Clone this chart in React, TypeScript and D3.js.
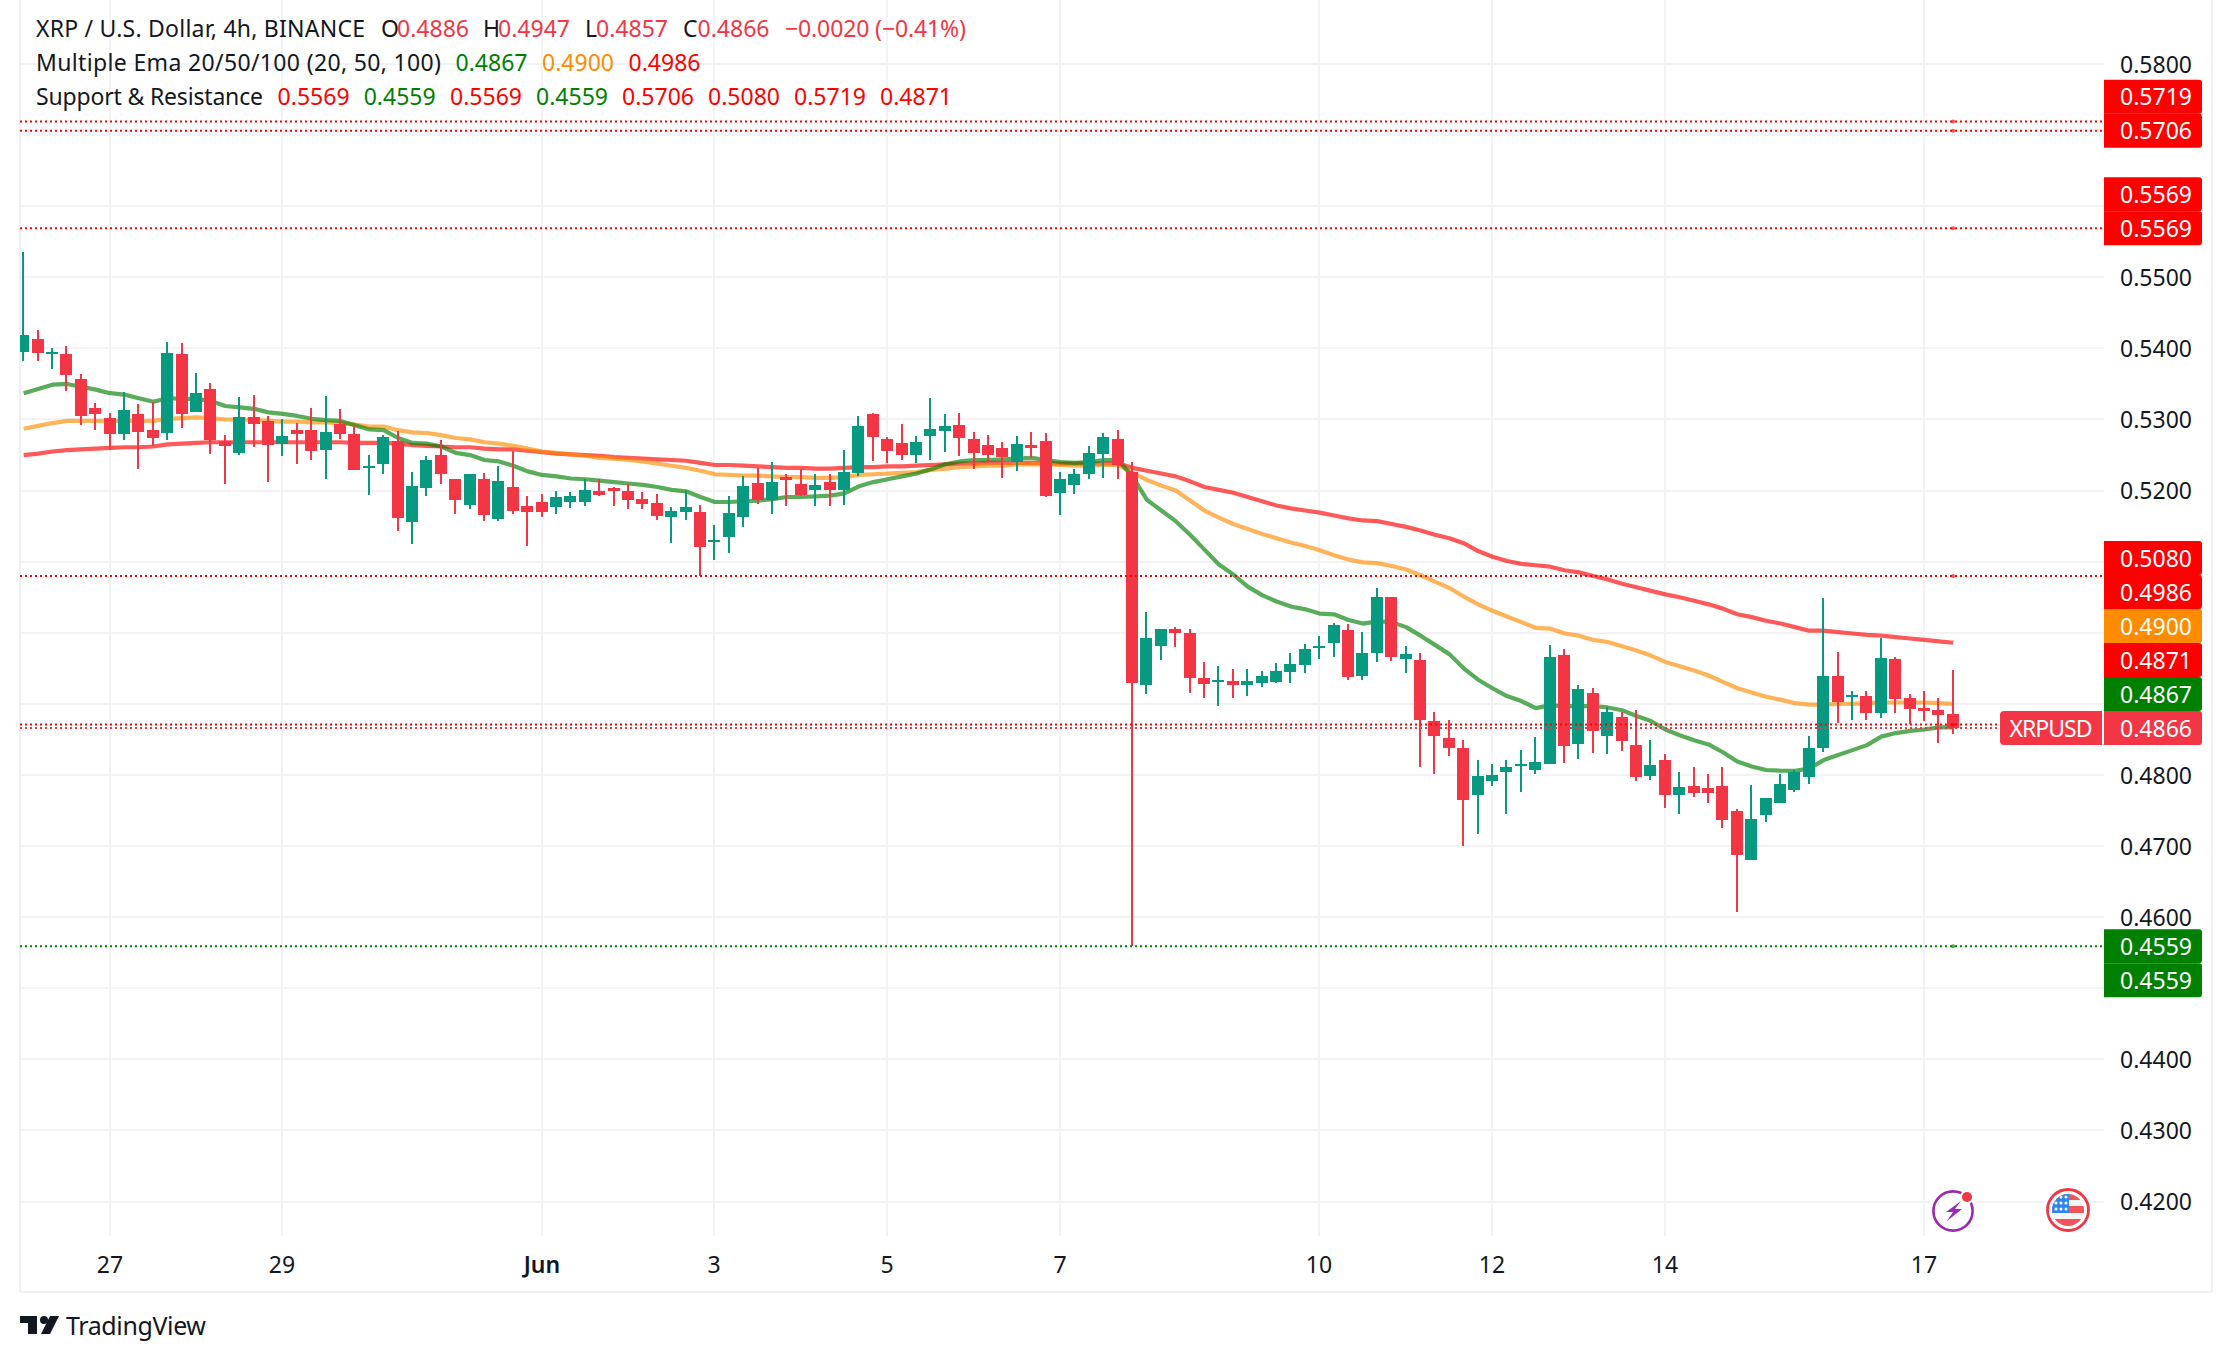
import { useRef, useEffect } from "react";
import * as d3 from "d3";

const opens = [
  0.5395, 0.5413, 0.5393, 0.5392, 0.5357, 0.5316, 0.5302, 0.5280, 0.5308, 0.5285,
  0.5281, 0.5392, 0.5311, 0.5343, 0.5270, 0.5253, 0.5304, 0.5298, 0.5266, 0.5285,
  0.5285, 0.5257, 0.5294, 0.5280, 0.5232, 0.5237, 0.5270, 0.5156, 0.5204, 0.5250,
  0.5216, 0.5180, 0.5216, 0.5160, 0.5205, 0.5178, 0.5184, 0.5177, 0.5184, 0.5184,
  0.5199, 0.5204, 0.5200, 0.5188, 0.5183, 0.5163, 0.5170, 0.5170, 0.5128, 0.5135,
  0.5163, 0.5211, 0.5187, 0.5219, 0.5209, 0.5201, 0.5212, 0.5201, 0.5225, 0.5308,
  0.5273, 0.5267, 0.5250, 0.5277, 0.5284, 0.5292, 0.5273, 0.5264, 0.5260, 0.5240,
  0.5264, 0.5270, 0.5197, 0.5208, 0.5223, 0.5252, 0.5273, 0.5226, 0.4927, 0.4981,
  0.5005, 0.5000, 0.4936, 0.4931, 0.4932, 0.4927, 0.4929, 0.4931, 0.4945, 0.4955,
  0.4979, 0.4986, 0.5004, 0.4939, 0.4972, 0.5050, 0.4963, 0.4962, 0.4876, 0.4852,
  0.4838, 0.4772, 0.4792, 0.4804, 0.4813, 0.4807, 0.4815, 0.4969, 0.4844, 0.4915,
  0.4855, 0.4882, 0.4842, 0.4799, 0.4821, 0.4772, 0.4785, 0.4782, 0.4785, 0.4749,
  0.4681, 0.4744, 0.4761, 0.4779, 0.4797, 0.4838, 0.4939, 0.4910, 0.4911, 0.4887,
  0.4963, 0.4908, 0.4894, 0.4891, 0.4886,
];
const highs = [
  0.5536, 0.5426, 0.5401, 0.5403, 0.5364, 0.5323, 0.5309, 0.5339, 0.5322, 0.5325,
  0.5409, 0.5408, 0.5365, 0.5351, 0.5278, 0.5332, 0.5334, 0.5305, 0.5301, 0.5295,
  0.5316, 0.5333, 0.5315, 0.5292, 0.5250, 0.5278, 0.5284, 0.5226, 0.5249, 0.5271,
  0.5216, 0.5223, 0.5225, 0.5235, 0.5256, 0.5192, 0.5195, 0.5199, 0.5198, 0.5216,
  0.5216, 0.5205, 0.5209, 0.5198, 0.5195, 0.5177, 0.5200, 0.5180, 0.5152, 0.5192,
  0.5221, 0.5232, 0.5240, 0.5223, 0.5230, 0.5223, 0.5223, 0.5257, 0.5305, 0.5309,
  0.5275, 0.5294, 0.5277, 0.5330, 0.5308, 0.5309, 0.5282, 0.5278, 0.5268, 0.5277,
  0.5282, 0.5281, 0.5226, 0.5230, 0.5263, 0.5281, 0.5285, 0.5240, 0.5029, 0.5005,
  0.5008, 0.5005, 0.4959, 0.4953, 0.4949, 0.4949, 0.4946, 0.4957, 0.4972, 0.4984,
  0.4995, 0.5014, 0.5012, 0.5001, 0.5063, 0.5050, 0.4981, 0.4972, 0.4889, 0.4877,
  0.4849, 0.4821, 0.4815, 0.4821, 0.4835, 0.4853, 0.4983, 0.4977, 0.4927, 0.4922,
  0.4896, 0.4889, 0.4891, 0.4849, 0.4830, 0.4804, 0.4811, 0.4801, 0.4811, 0.4752,
  0.4786, 0.4768, 0.4801, 0.4807, 0.4855, 0.5049, 0.4973, 0.4918, 0.4918, 0.4993,
  0.4966, 0.4914, 0.4918, 0.4908, 0.4947,
];
const lows = [
  0.5382, 0.5382, 0.5371, 0.5340, 0.5292, 0.5285, 0.5257, 0.5271, 0.5230, 0.5263,
  0.5271, 0.5288, 0.5311, 0.5251, 0.5209, 0.5250, 0.5261, 0.5212, 0.5249, 0.5237,
  0.5243, 0.5216, 0.5273, 0.5229, 0.5194, 0.5223, 0.5143, 0.5125, 0.5192, 0.5209,
  0.5167, 0.5174, 0.5157, 0.5157, 0.5167, 0.5122, 0.5163, 0.5167, 0.5175, 0.5178,
  0.5192, 0.5178, 0.5174, 0.5174, 0.5159, 0.5126, 0.5159, 0.5080, 0.5102, 0.5112,
  0.5149, 0.5181, 0.5167, 0.5178, 0.5192, 0.5178, 0.5178, 0.5180, 0.5221, 0.5242,
  0.5239, 0.5243, 0.5239, 0.5243, 0.5254, 0.5249, 0.5230, 0.5240, 0.5218, 0.5228,
  0.5246, 0.5191, 0.5166, 0.5195, 0.5216, 0.5218, 0.5216, 0.4559, 0.4914, 0.4962,
  0.4980, 0.4915, 0.4908, 0.4897, 0.4908, 0.4911, 0.4924, 0.4929, 0.4929, 0.4943,
  0.4963, 0.4966, 0.4934, 0.4934, 0.4959, 0.4960, 0.4943, 0.4811, 0.4801, 0.4827,
  0.4700, 0.4717, 0.4785, 0.4745, 0.4776, 0.4801, 0.4815, 0.4817, 0.4823, 0.4831,
  0.4830, 0.4834, 0.4792, 0.4793, 0.4754, 0.4745, 0.4769, 0.4761, 0.4726, 0.4607,
  0.4681, 0.4734, 0.4761, 0.4776, 0.4787, 0.4832, 0.4873, 0.4877, 0.4877, 0.4880,
  0.4887, 0.4872, 0.4876, 0.4845, 0.4857,
];
const closes = [
  0.5419, 0.5394, 0.5395, 0.5363, 0.5305, 0.5308, 0.5280, 0.5313, 0.5282, 0.5274,
  0.5394, 0.5308, 0.5337, 0.5271, 0.5263, 0.5304, 0.5294, 0.5264, 0.5277, 0.5280,
  0.5256, 0.5282, 0.5280, 0.5229, 0.5235, 0.5275, 0.5161, 0.5206, 0.5243, 0.5223,
  0.5187, 0.5223, 0.5166, 0.5213, 0.5171, 0.5170, 0.5170, 0.5191, 0.5192, 0.5201,
  0.5194, 0.5200, 0.5187, 0.5181, 0.5164, 0.5171, 0.5177, 0.5121, 0.5130, 0.5169,
  0.5207, 0.5187, 0.5212, 0.5215, 0.5194, 0.5208, 0.5201, 0.5226, 0.5291, 0.5275,
  0.5256, 0.5250, 0.5268, 0.5287, 0.5291, 0.5274, 0.5253, 0.5250, 0.5247, 0.5266,
  0.5260, 0.5192, 0.5216, 0.5223, 0.5253, 0.5275, 0.5236, 0.4929, 0.4993, 0.5005,
  0.5000, 0.4936, 0.4928, 0.4934, 0.4927, 0.4932, 0.4939, 0.4946, 0.4956, 0.4977,
  0.4981, 0.5011, 0.4938, 0.4972, 0.5050, 0.4966, 0.4970, 0.4877, 0.4855, 0.4838,
  0.4765, 0.4799, 0.4800, 0.4811, 0.4815, 0.4818, 0.4966, 0.4841, 0.4921, 0.4862,
  0.4889, 0.4848, 0.4797, 0.4814, 0.4772, 0.4783, 0.4775, 0.4775, 0.4737, 0.4688,
  0.4738, 0.4768, 0.4787, 0.4804, 0.4838, 0.4939, 0.4903, 0.4913, 0.4887, 0.4965,
  0.4907, 0.4893, 0.4890, 0.4884, 0.4866,
];

const ema20 = [
  0.5337, 0.5343, 0.5349, 0.5350, 0.5346, 0.5342, 0.5337, 0.5335, 0.5330, 0.5325,
  0.5330, 0.5329, 0.5329, 0.5326, 0.5319, 0.5317, 0.5315, 0.5310, 0.5308, 0.5305,
  0.5301, 0.5299, 0.5298, 0.5292, 0.5286, 0.5285, 0.5274, 0.5267, 0.5266, 0.5262,
  0.5253, 0.5250, 0.5243, 0.5241, 0.5235, 0.5227, 0.5222, 0.5220, 0.5217, 0.5216,
  0.5214, 0.5212, 0.5210, 0.5208, 0.5205, 0.5201, 0.5199, 0.5191, 0.5184, 0.5184,
  0.5185, 0.5186, 0.5188, 0.5191, 0.5191, 0.5192, 0.5193, 0.5196, 0.5206, 0.5212,
  0.5216, 0.5220, 0.5224, 0.5230, 0.5237, 0.5241, 0.5243, 0.5243, 0.5244, 0.5245,
  0.5246, 0.5243, 0.5240, 0.5239, 0.5240, 0.5243, 0.5243, 0.5220, 0.5187, 0.5172,
  0.5157, 0.5138, 0.5117, 0.5096, 0.5082, 0.5065, 0.5053, 0.5044, 0.5037, 0.5033,
  0.5027, 0.5026, 0.5018, 0.5013, 0.5016, 0.5015, 0.5008, 0.4996, 0.4983, 0.4970,
  0.4950, 0.4934, 0.4922, 0.4911, 0.4904, 0.4894, 0.4898, 0.4897, 0.4897, 0.4897,
  0.4895, 0.4891, 0.4883, 0.4876, 0.4864, 0.4856, 0.4849, 0.4843, 0.4832, 0.4819,
  0.4812, 0.4807, 0.4806, 0.4806, 0.4809, 0.4821, 0.4828, 0.4835, 0.4842, 0.4854,
  0.4859, 0.4862, 0.4864, 0.4867, 0.4867,
];
const ema50 = [
  0.5287, 0.5291, 0.5295, 0.5298, 0.5298, 0.5298, 0.5298, 0.5298, 0.5298, 0.5298,
  0.5301, 0.5302, 0.5303, 0.5302, 0.5300, 0.5300, 0.5299, 0.5298, 0.5297, 0.5297,
  0.5296, 0.5296, 0.5295, 0.5293, 0.5290, 0.5290, 0.5285, 0.5282, 0.5281, 0.5278,
  0.5274, 0.5272, 0.5268, 0.5266, 0.5263, 0.5259, 0.5255, 0.5253, 0.5251, 0.5249,
  0.5246, 0.5245, 0.5243, 0.5241, 0.5238, 0.5235, 0.5232, 0.5228, 0.5223, 0.5222,
  0.5221, 0.5221, 0.5220, 0.5219, 0.5219, 0.5218, 0.5218, 0.5219, 0.5222, 0.5223,
  0.5224, 0.5225, 0.5226, 0.5229, 0.5231, 0.5233, 0.5234, 0.5235, 0.5235, 0.5237,
  0.5237, 0.5237, 0.5236, 0.5235, 0.5235, 0.5236, 0.5236, 0.5225, 0.5215, 0.5207,
  0.5200, 0.5186, 0.5172, 0.5162, 0.5153, 0.5146, 0.5139, 0.5133, 0.5127, 0.5122,
  0.5116, 0.5109, 0.5103, 0.5099, 0.5098, 0.5094, 0.5089, 0.5081, 0.5072, 0.5063,
  0.5051, 0.5040, 0.5031, 0.5023, 0.5015, 0.5007, 0.5006, 0.4999, 0.4996, 0.4990,
  0.4987, 0.4981, 0.4975, 0.4968, 0.4959, 0.4953, 0.4947, 0.4940, 0.4931, 0.4922,
  0.4916, 0.4910, 0.4906, 0.4901, 0.4899, 0.4899, 0.4900, 0.4900, 0.4901, 0.4902,
  0.4902, 0.4902, 0.4902, 0.4901, 0.4900,
];
const ema100 = [
  0.5250, 0.5252, 0.5255, 0.5257, 0.5258, 0.5259, 0.5260, 0.5261, 0.5261, 0.5262,
  0.5265, 0.5266, 0.5267, 0.5268, 0.5268, 0.5268, 0.5268, 0.5268, 0.5268, 0.5268,
  0.5268, 0.5268, 0.5268, 0.5267, 0.5267, 0.5267, 0.5266, 0.5264, 0.5263, 0.5262,
  0.5261, 0.5261, 0.5259, 0.5258, 0.5258, 0.5256, 0.5254, 0.5252, 0.5251, 0.5250,
  0.5249, 0.5247, 0.5246, 0.5245, 0.5244, 0.5243, 0.5242, 0.5239, 0.5236, 0.5236,
  0.5235, 0.5234, 0.5233, 0.5232, 0.5232, 0.5231, 0.5231, 0.5232, 0.5233, 0.5233,
  0.5234, 0.5234, 0.5235, 0.5236, 0.5237, 0.5238, 0.5238, 0.5239, 0.5239, 0.5239,
  0.5239, 0.5239, 0.5238, 0.5238, 0.5238, 0.5238, 0.5238, 0.5232, 0.5228, 0.5224,
  0.5220, 0.5213, 0.5205, 0.5201, 0.5197, 0.5191, 0.5185, 0.5179, 0.5175, 0.5172,
  0.5169, 0.5165, 0.5161, 0.5158, 0.5157, 0.5153, 0.5149, 0.5144, 0.5138, 0.5133,
  0.5126, 0.5115, 0.5107, 0.5101, 0.5097, 0.5095, 0.5093, 0.5088, 0.5085, 0.5080,
  0.5075, 0.5069, 0.5064, 0.5059, 0.5054, 0.5050, 0.5045, 0.5040, 0.5034, 0.5026,
  0.5022, 0.5017, 0.5013, 0.5008, 0.5003, 0.5003, 0.5001, 0.4999, 0.4997, 0.4996,
  0.4994, 0.4992, 0.4990, 0.4988, 0.4986,
];

const gridPrices = [0.58, 0.57, 0.56, 0.55, 0.54, 0.53, 0.52, 0.51, 0.5, 0.49, 0.48, 0.47, 0.46, 0.45, 0.44, 0.43, 0.42];
const priceTickLabels = [0.58, 0.55, 0.54, 0.53, 0.52, 0.48, 0.47, 0.46, 0.44, 0.43, 0.42];
const dateTickBars = [6, 18, 36, 48, 60, 72, 90, 102, 114, 132];
const dateTickLabels = ["27", "29", "Jun", "3", "5", "7", "10", "12", "14", "17"];
const resistanceLevels = [0.5719, 0.5706, 0.5569, 0.508, 0.4871];
const supportLevels = [0.4559];
const lastPrice = 0.4866;

const font = "'Noto Sans', sans-serif";
const UP = "#089981";
const DOWN = "#F23645";
const INK = "#131722";
const GRID = "#f3f3f5";
const FRAME = "#eeeef3";
const LEVEL_RED = "#ff0000";
const LEVEL_GREEN = "#008000";
const LEVEL_ORANGE = "#ff8c00";

export default function App() {
  const svgRef = useRef<SVGSVGElement>(null);

  useEffect(() => {
    if (!svgRef.current) return;
    const svg = d3.select(svgRef.current);
    svg.selectAll("*").remove();

    const pane = { left: 20, right: 2104, top: 0, bottom: 1236 };
    const x = d3.scaleLinear().domain([0, opens.length - 1]).range([23.7, 1953.3]);
    const y = d3.scaleLinear().domain([0.42, 0.58]).range([1201.6, 64]);
    const bar = (i: number) => Math.round(x(i) - 0.5);

    const defs = svg.append("defs");
    defs
      .append("clipPath")
      .attr("id", "pane")
      .append("rect")
      .attr("x", pane.left)
      .attr("y", pane.top)
      .attr("width", pane.right - pane.left)
      .attr("height", pane.bottom - pane.top);
    defs
      .append("clipPath")
      .attr("id", "flag")
      .append("circle")
      .attr("cx", 2068)
      .attr("cy", 1210)
      .attr("r", 16);

    svg.append("rect").attr("width", 2232).attr("height", 1362).attr("fill", "#fff");

    // Grid
    const grid = svg.append("g").attr("stroke", GRID).attr("stroke-width", 2);
    gridPrices.forEach((p) => {
      grid
        .append("line")
        .attr("x1", pane.left)
        .attr("x2", pane.right)
        .attr("y1", Math.round(y(p)))
        .attr("y2", Math.round(y(p)));
    });
    dateTickBars.forEach((b) => {
      grid
        .append("line")
        .attr("x1", bar(b))
        .attr("x2", bar(b))
        .attr("y1", pane.top)
        .attr("y2", pane.bottom);
    });

    // Frame
    const frame = svg.append("g").attr("stroke", FRAME).attr("stroke-width", 2);
    frame.append("line").attr("x1", 20).attr("x2", 20).attr("y1", 0).attr("y2", 1292);
    frame.append("line").attr("x1", 2212).attr("x2", 2212).attr("y1", 0).attr("y2", 1292);
    frame.append("line").attr("x1", 20).attr("x2", 2212).attr("y1", 1292).attr("y2", 1292);

    const plot = svg.append("g").attr("clip-path", "url(#pane)");

    // EMA lines sit under the candles
    const line = d3
      .line<number>()
      .x((_, i) => x(i))
      .y((d) => y(d));
    [
      { values: ema100, color: LEVEL_RED },
      { values: ema50, color: LEVEL_ORANGE },
      { values: ema20, color: LEVEL_GREEN },
    ].forEach((s) => {
      plot
        .append("path")
        .attr("d", line(s.values))
        .attr("fill", "none")
        .attr("stroke", s.color)
        .attr("stroke-width", 4.2)
        .attr("stroke-opacity", 0.65)
        .attr("stroke-linejoin", "round");
    });

    // Candles
    const candles = plot.append("g").attr("shape-rendering", "crispEdges");
    opens.forEach((open, i) => {
      const close = closes[i];
      const color = close >= open ? UP : DOWN;
      candles
        .append("rect")
        .attr("x", bar(i) - 1)
        .attr("width", 2)
        .attr("y", y(highs[i]))
        .attr("height", y(lows[i]) - y(highs[i]))
        .attr("fill", color);
      candles
        .append("rect")
        .attr("x", bar(i) - 6)
        .attr("width", 12)
        .attr("y", y(Math.max(open, close)))
        .attr("height", Math.max(2, Math.abs(y(open) - y(close))))
        .attr("fill", color);
    });

    // Support & resistance levels and the last price line
    const levels = svg.append("g");
    const addLevel = (price: number, color: string, marker: boolean) => {
      levels
        .append("line")
        .attr("x1", pane.left)
        .attr("x2", pane.right)
        .attr("y1", y(price))
        .attr("y2", y(price))
        .attr("stroke", color)
        .attr("stroke-width", 2)
        .attr("stroke-dasharray", "2 3");
      if (marker) {
        levels
          .append("circle")
          .attr("cx", bar(opens.length - 1))
          .attr("cy", y(price))
          .attr("r", 2)
          .attr("fill", color)
          .attr("fill-opacity", 0.7);
      }
    };
    resistanceLevels.forEach((p) => addLevel(p, LEVEL_RED, true));
    supportLevels.forEach((p) => addLevel(p, LEVEL_GREEN, true));
    addLevel(lastPrice, DOWN, false);

    // Event icons
    const icons = svg.append("g");
    icons.append("circle").attr("cx", 1953).attr("cy", 1211).attr("r", 24).attr("fill", "#fff");
    icons.append("circle").attr("cx", 2068).attr("cy", 1210).attr("r", 25).attr("fill", "#fff");
    icons
      .append("circle")
      .attr("cx", 1953)
      .attr("cy", 1211)
      .attr("r", 19.6)
      .attr("fill", "none")
      .attr("stroke", "#9c27b0")
      .attr("stroke-width", 2.6);
    icons
      .append("path")
      .attr("d", "M1961 1201 L1946 1212 L1953 1212 L1947 1221 L1962 1209 L1955 1209 Z")
      .attr("fill", "#9c27b0");
    icons.append("circle").attr("cx", 1967).attr("cy", 1197).attr("r", 7).attr("fill", "#fff");
    icons.append("circle").attr("cx", 1967).attr("cy", 1197).attr("r", 5).attr("fill", DOWN);
    icons
      .append("circle")
      .attr("cx", 2068)
      .attr("cy", 1210)
      .attr("r", 20.5)
      .attr("fill", "none")
      .attr("stroke", DOWN)
      .attr("stroke-width", 2.8);
    const flag = icons.append("g").attr("clip-path", "url(#flag)");
    flag.append("rect").attr("x", 2050).attr("y", 1192).attr("width", 36).attr("height", 36).attr("fill", "#f7f7f9");
    [1193, 1206, 1219].forEach((top, i) => {
      flag
        .append("rect")
        .attr("x", 2050)
        .attr("y", top)
        .attr("width", 36)
        .attr("height", i === 2 ? 9 : 7)
        .attr("fill", "#f2545b");
    });
    flag.append("rect").attr("x", 2050).attr("y", 1192).attr("width", 19).attr("height", 21).attr("fill", "#2e86ef");
    [1197, 1203, 1209].forEach((cy) => {
      [2056, 2061, 2066].forEach((cx) => {
        flag.append("circle").attr("cx", cx).attr("cy", cy).attr("r", 1.5).attr("fill", "#fff");
      });
    });

    // Price axis labels
    const priceAxis = svg
      .append("g")
      .attr("font-family", font)
      .attr("font-size", 23)
      .attr("fill", INK)
      .attr("text-anchor", "end")
      .attr("dominant-baseline", "central");
    priceTickLabels.forEach((p) => {
      priceAxis
        .append("text")
        .attr("x", 2192)
        .attr("y", y(p) - 0.5)
        .text(p.toFixed(4));
    });

    // Level tags, stacked the way the chart pushes overlapping tags apart
    const tagHeight = 34;
    const tags = [
      { price: 0.5719, color: LEVEL_RED, anchor: 0.5706, slot: -1 },
      { price: 0.5706, color: LEVEL_RED, anchor: 0.5706, slot: 0 },
      { price: 0.5569, color: LEVEL_RED, anchor: 0.5569, slot: -1 },
      { price: 0.5569, color: LEVEL_RED, anchor: 0.5569, slot: 0 },
      { price: 0.508, color: LEVEL_RED, anchor: lastPrice, slot: -5 },
      { price: 0.4986, color: LEVEL_RED, anchor: lastPrice, slot: -4 },
      { price: 0.49, color: LEVEL_ORANGE, anchor: lastPrice, slot: -3 },
      { price: 0.4871, color: LEVEL_RED, anchor: lastPrice, slot: -2 },
      { price: 0.4867, color: LEVEL_GREEN, anchor: lastPrice, slot: -1 },
      { price: 0.4866, color: DOWN, anchor: lastPrice, slot: 0 },
      { price: 0.4559, color: LEVEL_GREEN, anchor: 0.4559, slot: 0 },
      { price: 0.4559, color: LEVEL_GREEN, anchor: 0.4559, slot: 1 },
    ];
    const tagGroup = svg.append("g").attr("font-family", font).attr("font-size", 23);
    tags.forEach((t) => {
      const cy = y(t.anchor) + t.slot * tagHeight;
      const top = cy - tagHeight / 2;
      const p = d3.path();
      p.moveTo(pane.right, top);
      p.lineTo(2199, top);
      p.arcTo(2202, top, 2202, top + 3, 3);
      p.lineTo(2202, top + tagHeight - 3);
      p.arcTo(2202, top + tagHeight, 2199, top + tagHeight, 3);
      p.lineTo(pane.right, top + tagHeight);
      p.closePath();
      tagGroup.append("path").attr("d", p.toString()).attr("fill", t.color);
      tagGroup
        .append("text")
        .attr("x", 2192)
        .attr("y", cy - 0.5)
        .attr("text-anchor", "end")
        .attr("dominant-baseline", "central")
        .attr("fill", "#fff")
        .text(t.price.toFixed(4));
    });

    // Ticker tag on the last price
    const lastY = y(lastPrice);
    const tickerPath = d3.path();
    tickerPath.moveTo(2102, lastY - 17);
    tickerPath.lineTo(2004, lastY - 17);
    tickerPath.arcTo(2000, lastY - 17, 2000, lastY - 13, 4);
    tickerPath.lineTo(2000, lastY + 13);
    tickerPath.arcTo(2000, lastY + 17, 2004, lastY + 17, 4);
    tickerPath.lineTo(2102, lastY + 17);
    tickerPath.closePath();
    svg.append("rect").attr("x", 2102).attr("y", lastY - 17).attr("width", 2).attr("height", 34).attr("fill", "#fff");
    tagGroup.append("path").attr("d", tickerPath.toString()).attr("fill", DOWN);
    tagGroup
      .append("text")
      .attr("x", 2051)
      .attr("y", lastY - 0.5)
      .attr("text-anchor", "middle")
      .attr("dominant-baseline", "central")
      .attr("textLength", 83)
      .attr("fill", "#fff")
      .text("XRPUSD");

    // Time axis labels
    const timeAxis = svg
      .append("g")
      .attr("font-family", font)
      .attr("font-size", 23)
      .attr("fill", INK)
      .attr("text-anchor", "middle")
      .attr("dominant-baseline", "central");
    dateTickBars.forEach((b, i) => {
      timeAxis
        .append("text")
        .attr("x", bar(b))
        .attr("y", 1264)
        .attr("font-weight", dateTickLabels[i] === "Jun" ? 600 : 400)
        .text(dateTickLabels[i]);
    });

    // Legend: label, x, row, colour, and the width the text takes up in the chart
    const legend = svg
      .append("g")
      .attr("font-family", font)
      .attr("font-size", 23)
      .attr("dominant-baseline", "central");
    const legendItems: [string, number, number, string, number?][] = [
      ["XRP / U.S. Dollar, 4h, BINANCE", 36, 27.5, INK, 329],
      ["O", 381, 27.5, INK],
      ["0.4886", 397, 27.5, DOWN],
      ["H", 483, 27.5, INK],
      ["0.4947", 498, 27.5, DOWN],
      ["L", 585, 27.5, INK],
      ["0.4857", 596, 27.5, DOWN],
      ["C", 683, 27.5, INK],
      ["0.4866", 697.5, 27.5, DOWN],
      ["\u22120.0020 (\u22120.41%)", 785, 27.5, DOWN, 181],
      ["Multiple Ema 20/50/100 (20, 50, 100)", 36, 61.5, INK, 405],
      ["0.4867", 455.5, 61.5, LEVEL_GREEN],
      ["0.4900", 542, 61.5, LEVEL_ORANGE],
      ["0.4986", 628.5, 61.5, LEVEL_RED],
      ["Support & Resistance", 36, 95.5, INK, 227],
      ["0.5569", 277.6, 95.5, LEVEL_RED],
      ["0.4559", 363.7, 95.5, LEVEL_GREEN],
      ["0.5569", 450, 95.5, LEVEL_RED],
      ["0.4559", 536, 95.5, LEVEL_GREEN],
      ["0.5706", 622, 95.5, LEVEL_RED],
      ["0.5080", 708, 95.5, LEVEL_RED],
      ["0.5719", 794, 95.5, LEVEL_RED],
      ["0.4871", 880, 95.5, LEVEL_RED],
    ];
    legendItems.forEach(([label, lx, ly, color, length]) => {
      const t = legend.append("text").attr("x", lx).attr("y", ly).attr("fill", color).text(label);
      if (length) t.attr("textLength", length);
    });

    // TradingView logo
    const logo = svg.append("g").attr("fill", INK);
    logo.append("path").attr("d", "M20 1316 H37 V1334 H28 V1323 H20 Z");
    logo.append("circle").attr("cx", 44).attr("cy", 1320).attr("r", 4);
    logo.append("path").attr("d", "M50 1316 H59 L50 1334 H41 Z");
    svg
      .append("text")
      .attr("x", 66)
      .attr("y", 1325)
      .attr("font-family", font)
      .attr("font-size", 25)
      .attr("fill", INK)
      .attr("dominant-baseline", "central")
      .attr("textLength", 140)
      .text("TradingView");
  }, []);

  return (
    <svg
      ref={svgRef}
      width={2232}
      height={1362}
      style={{ position: "absolute", left: 0, top: 0, display: "block" }}
    />
  );
}
